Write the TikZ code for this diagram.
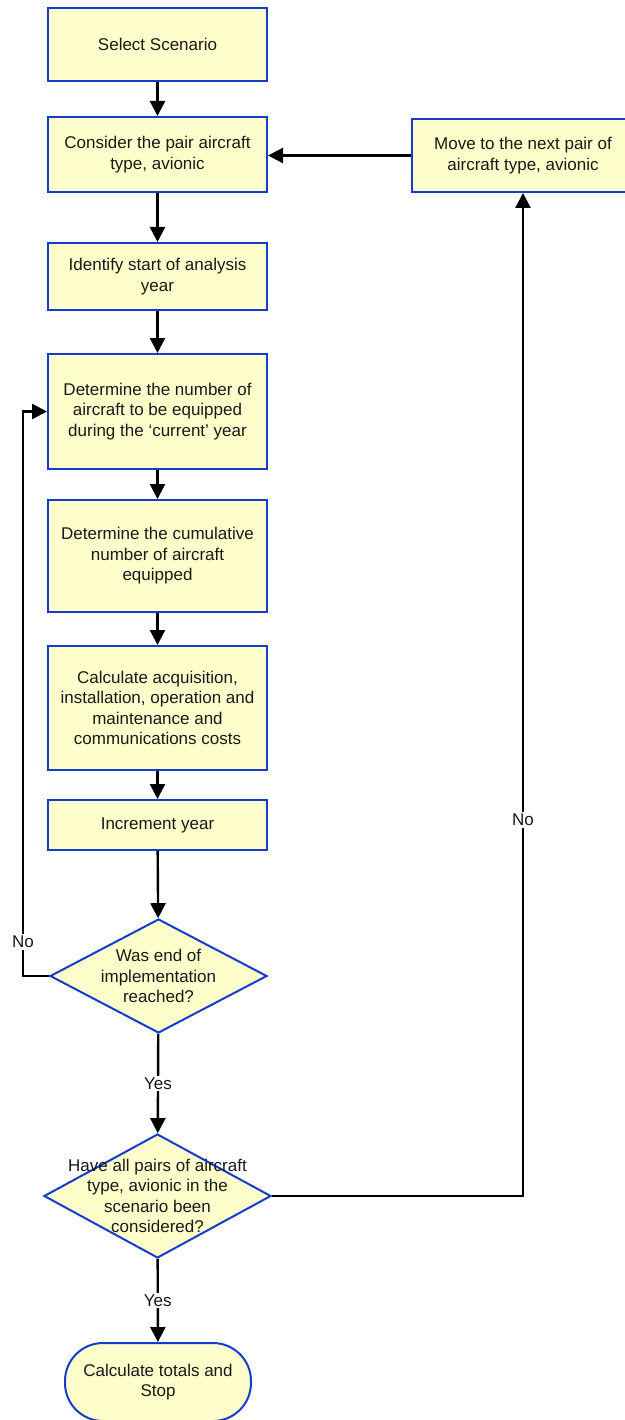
\documentclass[tikz,border=0pt]{standalone}
\usepackage{fontspec}
\setmainfont{Liberation Sans}
\usetikzlibrary{shapes.geometric,arrows.meta}
\definecolor{boxfill}{RGB}{255,255,204}
\definecolor{boxline}{RGB}{20,60,205}
\definecolor{txt}{RGB}{25,25,25}
\begin{document}
\begin{tikzpicture}[x=1pt,y=-1pt,
  every node/.style={text=txt},
  txtfont/.style={font=\fontsize{17}{20.5}\selectfont},
  stepbox/.style={draw=boxline, line width=2pt, fill=boxfill, rectangle,
    minimum width=219pt, align=center, inner sep=0pt, txtfont},
  decision/.style={draw=boxline, line width=2pt, fill=boxfill, diamond,
    inner sep=0pt},
  endbox/.style={draw=boxline, line width=2pt, fill=boxfill, rectangle,
    rounded corners=38pt, minimum width=186pt, minimum height=78pt,
    align=center, inner sep=0pt, txtfont},
  flow/.style={line width=2.4pt, draw=black, -{Triangle[length=15pt,width=15pt]}},
  lbl/.style={fill=white, inner sep=2pt, txtfont}]
\useasboundingbox (0,0) rectangle (624,1420);

% process boxes
\node[stepbox, minimum height=73pt] (select) at (157.5,44.5) {Select Scenario};
\node[stepbox, minimum height=75pt] (consider) at (157.5,154.5) {Consider the pair aircraft\\type, avionic};
\node[stepbox, minimum width=222pt, minimum height=73pt] (move) at (523,155.5) {Move to the next pair of\\aircraft type, avionic};
\node[stepbox, minimum height=67pt] (identify) at (157.5,276.5) {Identify start of analysis\\year};
\node[stepbox, minimum height=115pt] (number) at (157.5,411.5) {Determine the number of\\aircraft to be equipped\\during the ‘current’ year};
\node[stepbox, minimum height=112pt] (cumul) at (157.5,556) {Determine the cumulative\\number of aircraft\\equipped};
\node[stepbox, minimum height=124pt] (costs) at (157.5,708) {Calculate acquisition,\\installation, operation and\\maintenance and\\communications costs};
\node[stepbox, minimum height=50pt] (incr) at (157.5,825) {Increment year};

% decisions
\node[decision, minimum width=217pt, minimum height=114pt,
  label={[align=center, txtfont]center:Was end of\\implementation\\reached?}] (endq) at (158.5,976) {};
\node[decision, minimum width=227pt, minimum height=124pt,
  label={[align=center, txtfont]center:Have all pairs of aircraft\\type, avionic in the\\scenario been\\considered?}] (allq) at (157.5,1196) {};

% terminal
\node[endbox] (stop) at (158,1382) {Calculate totals and\\Stop};

% main flow
\draw[flow] (select) -- (consider);
\draw[flow] (consider) -- (identify);
\draw[flow] (identify) -- (number);
\draw[flow] (number) -- (cumul);
\draw[flow] (cumul) -- (costs);
\draw[flow] (costs) -- (incr);
\draw[flow] (incr) -- (endq);
\draw[flow] (endq) -- node[lbl] {Yes} (allq);
\draw[flow] (allq) -- node[lbl] {Yes} (stop);

% year loop
\coordinate (loopx) at (23,0);
\draw[flow] (endq.west) -- (endq.west -| loopx)
  -- node[lbl, pos=0.06] {No} (number.west -| loopx) -- (number.west);

% next pair loop
\draw[flow] (allq.east) -| node[lbl, pos=0.6876] {No} (move.south);
\draw[flow] (move.west) -- (move.west -| consider.east);
\end{tikzpicture}
\end{document}
